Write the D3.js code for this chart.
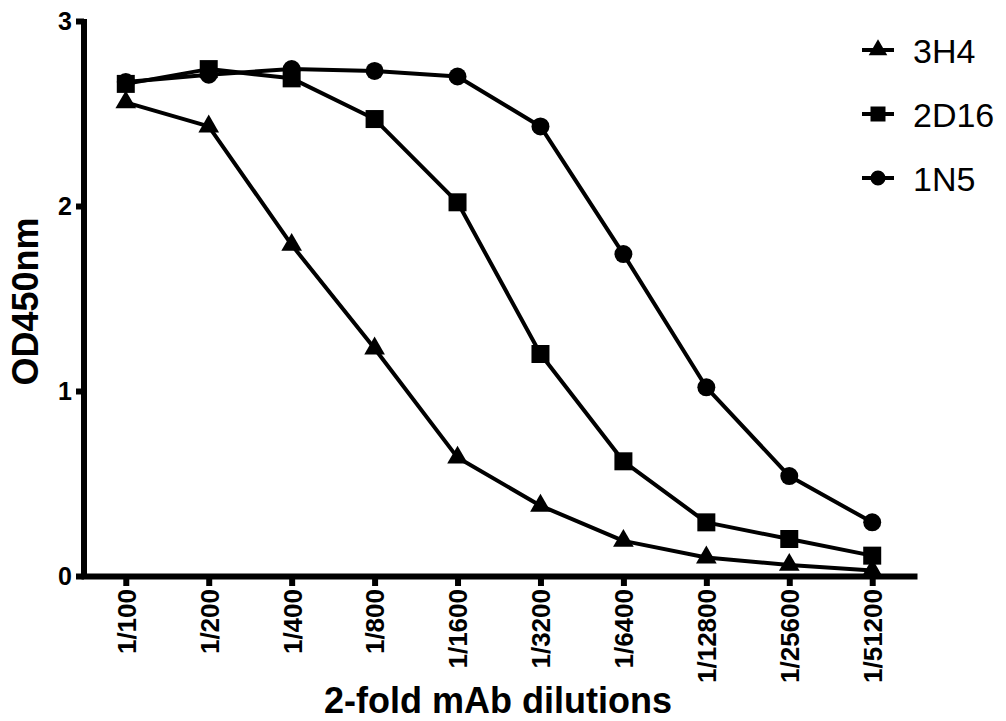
<!DOCTYPE html>
<html lang="en">
<head>
    <meta charset="UTF-8">
    <title>OD450nm vs mAb dilutions</title>
    <script src="https://d3js.org/d3.v7.min.js"></script>
    <style>
        body { margin: 0; background: #fff; }
        text { font-family: "Liberation Sans", Arial, sans-serif; fill: #000; }
    </style>
</head>
<body>
    <div id="chart"></div>

    <script>
        // dilution categories on the x axis
        const dilutions = ["1/100", "1/200", "1/400", "1/800", "1/1600",
            "1/3200", "1/6400", "1/12800", "1/25600", "1/51200"];

        // OD450 readings per antibody
        const od3H4  = [2.56, 2.43, 1.79, 1.23, 0.64, 0.38, 0.19, 0.10, 0.06, 0.03];
        const od2D16 = [2.66, 2.74, 2.69, 2.47, 2.02, 1.20, 0.62, 0.29, 0.20, 0.11];
        const od1N5  = [2.67, 2.71, 2.74, 2.73, 2.70, 2.43, 1.74, 1.02, 0.54, 0.29];

        const seriesNames = ["3H4", "2D16", "1N5"];
        const yTicks = [0, 1, 2, 3];

        const series = [
            {name: "3H4", values: od3H4, shape: d3.symbolTriangle, size: 185, legendSize: 150},
            {name: "2D16", values: od2D16, shape: d3.symbolSquare, size: 324, legendSize: 225},
            {name: "1N5", values: od1N5, shape: d3.symbolCircle, size: 254, legendSize: 180}
        ];

        const W = 1006, H = 721;
        const svg = d3.select("#chart").append("svg")
            .attr("width", W)
            .attr("height", H);

        const x = d3.scalePoint()
            .domain(dilutions)
            .range([81, 917])
            .padding(0.54);

        const y = d3.scaleLinear()
            .domain([0, 3])
            .range([576, 21]);

        // x axis
        const xAxis = svg.append("g")
            .attr("transform", `translate(0, ${y(0)})`)
            .call(d3.axisBottom(x).tickSize(10).tickSizeOuter(0).tickPadding(0));
        xAxis.select(".domain").attr("stroke-width", 6).attr("stroke", "#000");
        xAxis.selectAll(".tick line").attr("stroke-width", 6).attr("stroke", "#000");
        xAxis.selectAll(".tick text")
            .attr("transform", "rotate(-90)")
            .attr("text-anchor", "end")
            .attr("x", -13)
            .attr("y", 0)
            .attr("dy", "0.36em")
            .style("font-size", "26px")
            .style("font-weight", "bold");

        // y axis
        const yAxis = svg.append("g")
            .attr("transform", `translate(84, 0)`)
            .call(d3.axisLeft(y).tickValues(yTicks).tickFormat(d3.format("d"))
                .tickSize(8).tickSizeOuter(0).tickPadding(4));
        yAxis.select(".domain")
            .attr("d", `M0,${y(3) - 2}V${y(0) + 3}`)
            .attr("stroke-width", 6).attr("stroke", "#000");
        yAxis.selectAll(".tick line").attr("stroke-width", 6).attr("stroke", "#000");
        yAxis.selectAll(".tick text")
            .style("font-size", "25px")
            .style("font-weight", "bold");

        // axis titles
        svg.append("text")
            .attr("transform", `translate(38, ${(y(0) + y(3)) / 2 + 3}) rotate(-90)`)
            .attr("text-anchor", "middle")
            .style("font-size", "36px")
            .style("font-weight", "bold")
            .text("OD450nm");

        svg.append("text")
            .attr("x", 498)
            .attr("y", 713)
            .attr("text-anchor", "middle")
            .style("font-size", "36px")
            .style("font-weight", "bold")
            .text("2-fold mAb dilutions");

        // lines + markers
        const line = d3.line()
            .x((d, i) => x(dilutions[i]))
            .y(d => y(d));

        series.forEach(s => {
            const g = svg.append("g");
            g.append("path")
                .datum(s.values)
                .attr("fill", "none")
                .attr("stroke", "#000")
                .attr("stroke-width", 4)
                .attr("stroke-linejoin", "round")
                .attr("d", line);
            g.selectAll("path.pt")
                .data(s.values)
                .enter()
                .append("path")
                .attr("class", "pt")
                .attr("transform", (d, i) => `translate(${x(dilutions[i])}, ${y(d)})`)
                .attr("d", d3.symbol().type(s.shape).size(s.size))
                .attr("fill", "#000");
        });

        // legend
        const legend = svg.append("g")
            .selectAll("g")
            .data(series)
            .enter()
            .append("g")
            .attr("transform", (d, i) => `translate(0, ${50 + i * 64})`);
        legend.append("line")
            .attr("x1", 862).attr("x2", 894)
            .attr("stroke", "#000")
            .attr("stroke-width", 4);
        legend.append("path")
            .attr("transform", "translate(878, 0)")
            .attr("d", d => d3.symbol().type(d.shape).size(d.legendSize)())
            .attr("fill", "#000");
        legend.append("text")
            .attr("x", 913)
            .attr("y", 13)
            .style("font-size", "34px")
            .text((d, i) => seriesNames[i]);
    </script>
</body>
</html>
